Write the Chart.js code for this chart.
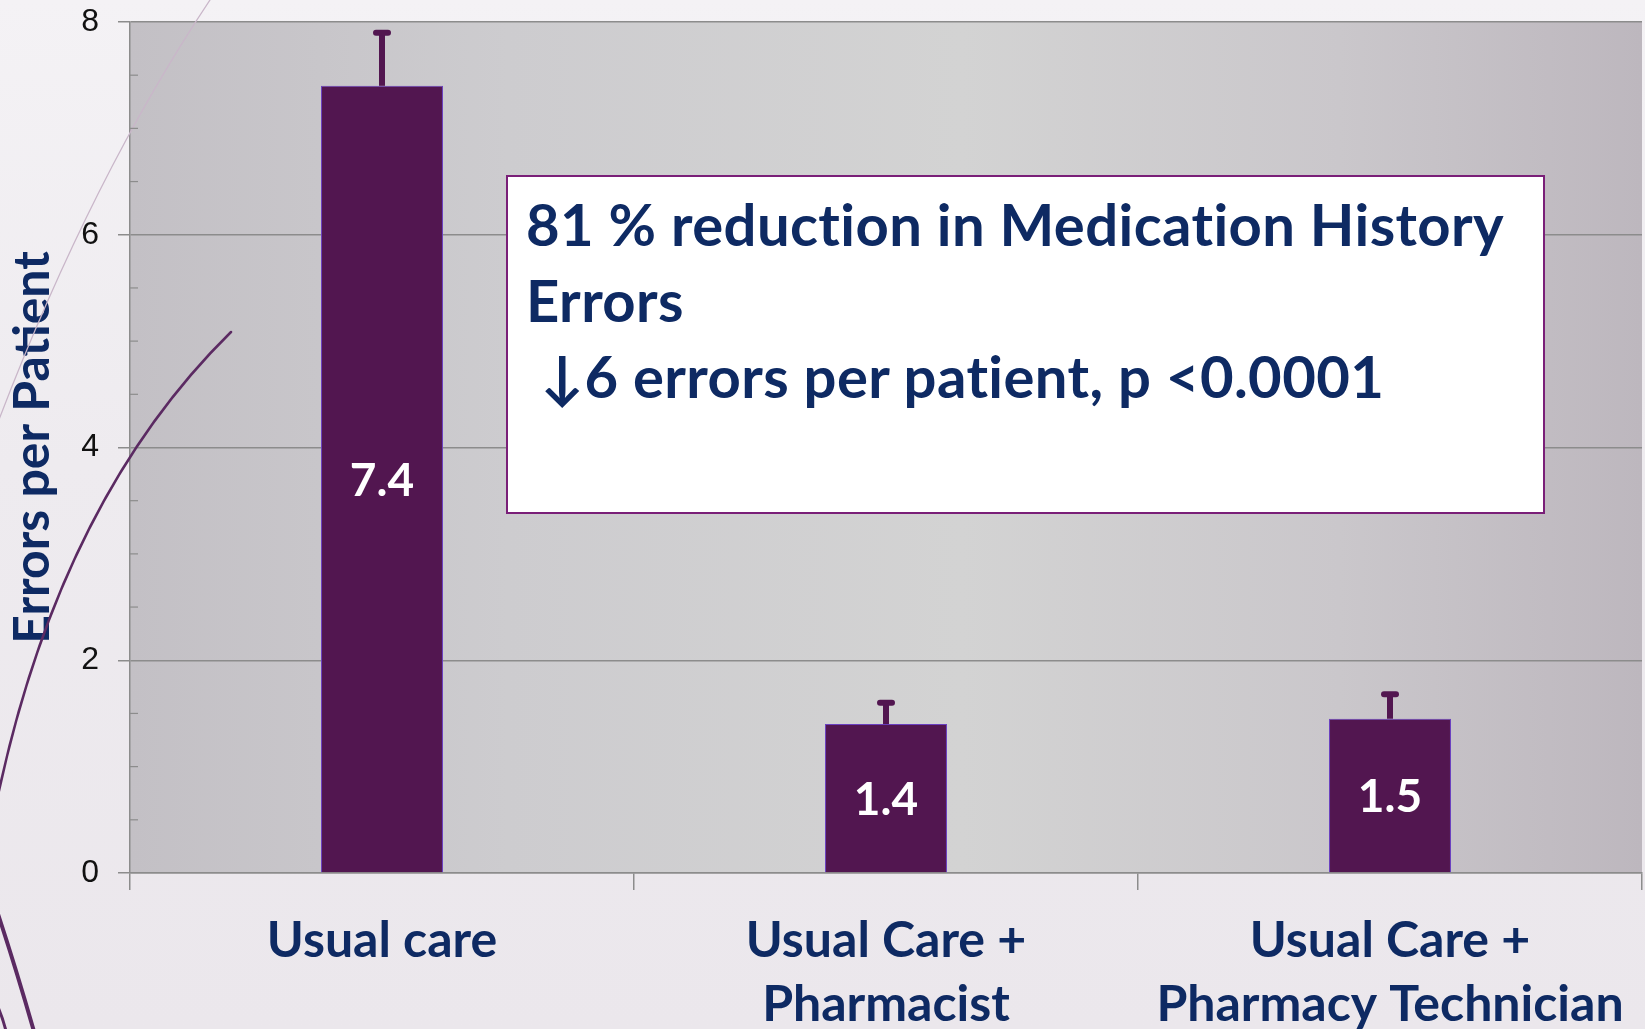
<!DOCTYPE html>
<html>
<head>
<meta charset="utf-8">
<script src="https://cdn.jsdelivr.net/npm/chart.js@4.4.1/dist/chart.umd.min.js"></script>
<style>
  html, body { margin: 0; padding: 0; }
  body {
    width: 1645px; height: 1029px; overflow: hidden; position: relative;
    background: linear-gradient(180deg, #f4f2f5 0%, #eeebef 45%, #ebe7ec 100%);
  }
  #wrap { position: absolute; left: 0; top: 0; width: 1645px; height: 1029px; }
  #note {
    position: absolute; left: 506px; top: 175px; width: 1039px; height: 339px;
    background: #fff; border: 2px solid #7a1f78; box-sizing: border-box;
    font-family: Lato, "Open Sans", sans-serif; font-weight: bold;
    font-size: 58px; line-height: 76px; color: #0e2a63;
    font-variant-ligatures: none; letter-spacing: 0.4px;
    padding: 9px 0 0 18px; white-space: nowrap;
  }
</style>
</head>
<body>
<div id="wrap"><canvas id="myChart"></canvas></div>
<div id="note">81 % reduction in Medication History<br>Errors<br>&nbsp;↓6 errors per patient, p &lt;0.0001</div>
<script>
const categories = [['Usual care'], ['Usual Care +', 'Pharmacist'], ['Usual Care +', 'Pharmacy Technician']];
const errorsPerPatient = [7.4, 1.4, 1.45];
const valueLabels = ['7.4', '1.4', '1.5'];
const errorHigh = [7.9, 1.6, 1.68];
const yTicks = [0, 2, 4, 6, 8];

const navy = '#0e2a63';
const barColor = '#521650';
const axisGray = '#8c8c8c';

// gray plot background + decorative swooshes
const backdrop = {
    id: 'backdrop',
    beforeDraw(chart) {
        const { ctx, chartArea: a } = chart;
        const g = ctx.createLinearGradient(a.left, 0, a.right, 0);
        g.addColorStop(0, '#c3c0c5');
        g.addColorStop(0.25, '#cdcccf');
        g.addColorStop(0.55, '#d3d3d3');
        g.addColorStop(0.8, '#cac7cb');
        g.addColorStop(1, '#bdb7be');
        ctx.save();
        ctx.fillStyle = g;
        ctx.fillRect(a.left, a.top, a.right - a.left, a.bottom - a.top);
        ctx.restore();
    },
    beforeDatasetsDraw(chart) {
        const ctx = chart.ctx;
        ctx.save();
        ctx.lineCap = 'round';
        ctx.strokeStyle = '#c9b6c9';
        ctx.lineWidth = 1.3;
        ctx.beginPath(); ctx.moveTo(210, 0); ctx.quadraticCurveTo(90, 180, -5, 430); ctx.stroke();
        ctx.strokeStyle = '#5b2a62';
        ctx.lineWidth = 2.5;
        ctx.beginPath(); ctx.moveTo(231, 332); ctx.quadraticCurveTo(60, 500, -3, 800); ctx.stroke();
        ctx.lineWidth = 4;
        ctx.beginPath(); ctx.moveTo(-5, 905); ctx.quadraticCurveTo(15, 965, 35, 1035); ctx.stroke();
        ctx.lineWidth = 3;
        ctx.beginPath(); ctx.moveTo(-3, 1005); ctx.quadraticCurveTo(3, 1018, 7, 1035); ctx.stroke();
        ctx.restore();
    }
};

// minor ticks, error bars and value labels
const extras = {
    id: 'extras',
    afterDatasetsDraw(chart) {
        const ctx = chart.ctx;
        const y = chart.scales.y;
        const a = chart.chartArea;
        ctx.save();
        ctx.strokeStyle = axisGray;
        ctx.lineWidth = 1.2;
        for (let v = 0.5; v < 8; v += 0.5) {
            if (v % 2 === 0) continue;
            const py = y.getPixelForValue(v);
            ctx.beginPath(); ctx.moveTo(a.left, py); ctx.lineTo(a.left + 8, py); ctx.stroke();
        }
        const meta = chart.getDatasetMeta(0);
        meta.data.forEach((bar, i) => {
            const top = y.getPixelForValue(errorHigh[i]);
            ctx.strokeStyle = barColor;
            ctx.lineCap = 'butt';
            ctx.lineWidth = 6;
            ctx.beginPath(); ctx.moveTo(bar.x, bar.y); ctx.lineTo(bar.x, top); ctx.stroke();
            ctx.lineCap = 'round';
            ctx.beginPath(); ctx.moveTo(bar.x - 6, top); ctx.lineTo(bar.x + 6, top); ctx.stroke();

            ctx.fillStyle = '#ffffff';
            ctx.font = 'bold 46px Lato, "Open Sans", sans-serif';
            ctx.textAlign = 'center';
            ctx.textBaseline = 'middle';
            ctx.fillText(valueLabels[i], bar.x, (bar.y + bar.base) / 2 + 2);
        });
        ctx.restore();
    }
};

const el = document.getElementById('myChart');
new Chart(el, {
    type: 'bar',
    data: {
        labels: categories,
        datasets: [{
            data: errorsPerPatient,
            backgroundColor: barColor,
            borderColor: '#6a40c0',
            borderWidth: 1,
            barPercentage: 0.242,
            categoryPercentage: 1
        }]
    },
    options: {
        responsive: true,
        maintainAspectRatio: false,
        animation: false,
        layout: { padding: { top: 22, right: 3, left: 0, bottom: 0 } },
        plugins: {
            legend: { display: false },
            tooltip: { enabled: false }
        },
        scales: {
            x: {
                afterFit(s) { s.height = 156; },
                grid: { drawOnChartArea: false, tickLength: 17, color: axisGray, lineWidth: 1.5 },
                border: { color: axisGray, width: 1.5 },
                ticks: {
                    color: navy,
                    padding: 19,
                    font: { family: 'Lato, "Open Sans", sans-serif', weight: 'bold', size: 50, lineHeight: '64px' }
                }
            },
            y: {
                min: 0,
                max: 8,
                afterFit(s) { s.width = 130; s.paddingTop = 0; s.paddingBottom = 0; },
                afterBuildTicks(s) { s.ticks = yTicks.map(v => ({ value: v })); },
                grid: { color: axisGray, lineWidth: 1.5, tickLength: 12 },
                border: { color: axisGray, width: 1.5 },
                ticks: {
                    color: '#111',
                    padding: 19,
                    font: { family: '"Liberation Sans", sans-serif', weight: 'normal', size: 32 }
                },
                title: {
                    display: true,
                    text: 'Errors per Patient',
                    color: navy,
                    padding: { top: 4, bottom: 0 },
                    font: { family: 'Lato, "Open Sans", sans-serif', weight: 'bold', size: 50, lineHeight: 1.15 }
                }
            }
        }
    },
    plugins: [backdrop, extras]
});
</script>
</body>
</html>
